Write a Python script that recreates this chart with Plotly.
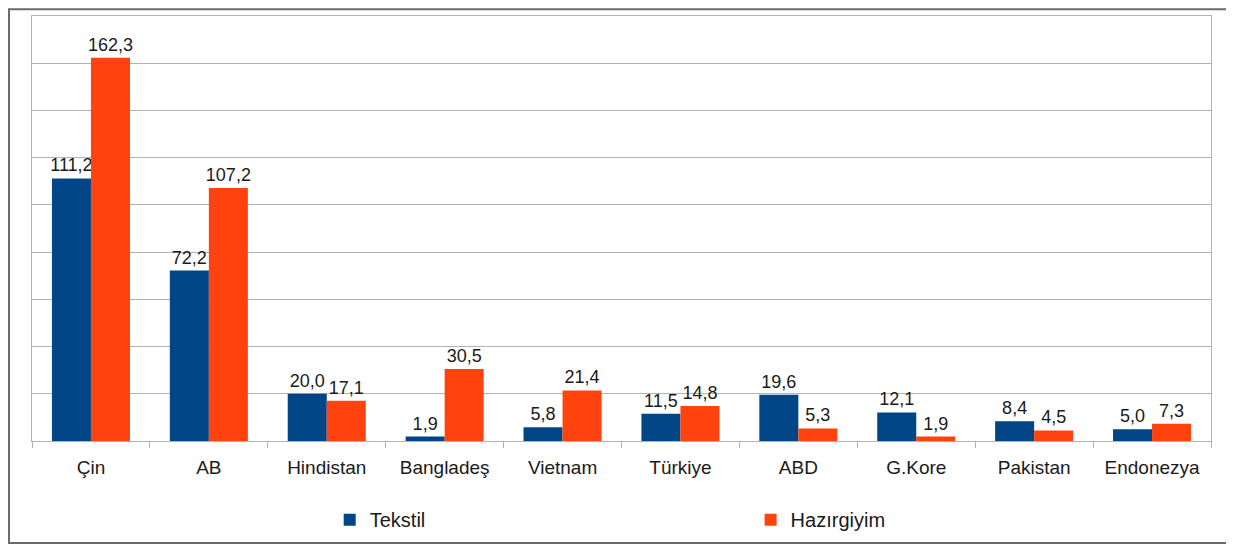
import plotly.graph_objects as go

countries = ["Çin", "AB", "Hindistan", "Bangladeş", "Vietnam", "Türkiye", "ABD", "G.Kore", "Pakistan", "Endonezya"]
tekstil = [111.2, 72.2, 20.0, 1.9, 5.8, 11.5, 19.6, 12.1, 8.4, 5.0]
hazirgiyim = [162.3, 107.2, 17.1, 30.5, 21.4, 14.8, 5.3, 1.9, 4.5, 7.3]


def tr_label(values):
    # Turkish decimal comma
    return [f"{v:.1f}".replace(".", ",") for v in values]


FONT = "Liberation Sans, Arial, sans-serif"

fig = go.Figure()
fig.add_trace(go.Bar(
    x=countries, y=tekstil, name="Tekstil", legend="legend",
    marker_color="#004586", marker_line_width=0,
    text=tr_label(tekstil), textposition="outside", cliponaxis=False,
    constraintext="none",
    textfont=dict(family=FONT, size=18, color="#1a1a1a"),
))
fig.add_trace(go.Bar(
    x=countries, y=hazirgiyim, name="Hazırgiyim", legend="legend2",
    marker_color="#ff420e", marker_line_width=0,
    text=tr_label(hazirgiyim), textposition="outside", cliponaxis=False,
    constraintext="none",
    textfont=dict(family=FONT, size=18, color="#1a1a1a"),
))

legend_style = dict(
    orientation="h", xanchor="left", y=-0.185, yanchor="middle",
    itemwidth=30, bgcolor="rgba(0,0,0,0)",
    font=dict(family=FONT, size=20, color="#1a1a1a"),
)

# page body has an 8px margin, so the figure is a bit smaller than the window
fig.update_layout(
    width=1226, height=537,
    margin=dict(l=24, r=23, t=8, b=104, autoexpand=False),
    paper_bgcolor="white", plot_bgcolor="white",
    barmode="group", bargap=0.338, bargroupgap=0,
    font=dict(family=FONT, size=18, color="#1a1a1a"),
    showlegend=True,
    legend=dict(x=0.2525, **legend_style),
    legend2=dict(x=0.6095, **legend_style),
    # outer frame around the whole chart (right side runs off the page)
    shapes=[dict(
        type="rect", xref="paper", yref="paper",
        x0=-0.0195, x1=1.2, y0=-0.24, y1=1.016,
        line=dict(color="#6b6b6b", width=2), layer="below",
    )],
)
fig.update_xaxes(
    showline=True, linecolor="#b3b3b3", linewidth=1, mirror=True,
    ticks="outside", tickson="boundaries", ticklen=6, tickcolor="#b3b3b3",
    ticklabelstandoff=9, showgrid=False,
    tickfont=dict(family=FONT, size=19, color="#1a1a1a"),
)
fig.update_yaxes(
    range=[0, 180], dtick=20, showticklabels=False,
    showgrid=True, gridcolor="#b3b3b3", gridwidth=1,
    showline=True, linecolor="#b3b3b3", linewidth=1, mirror=True,
    zeroline=False, ticks="",
)

fig.write_html("out.html")
